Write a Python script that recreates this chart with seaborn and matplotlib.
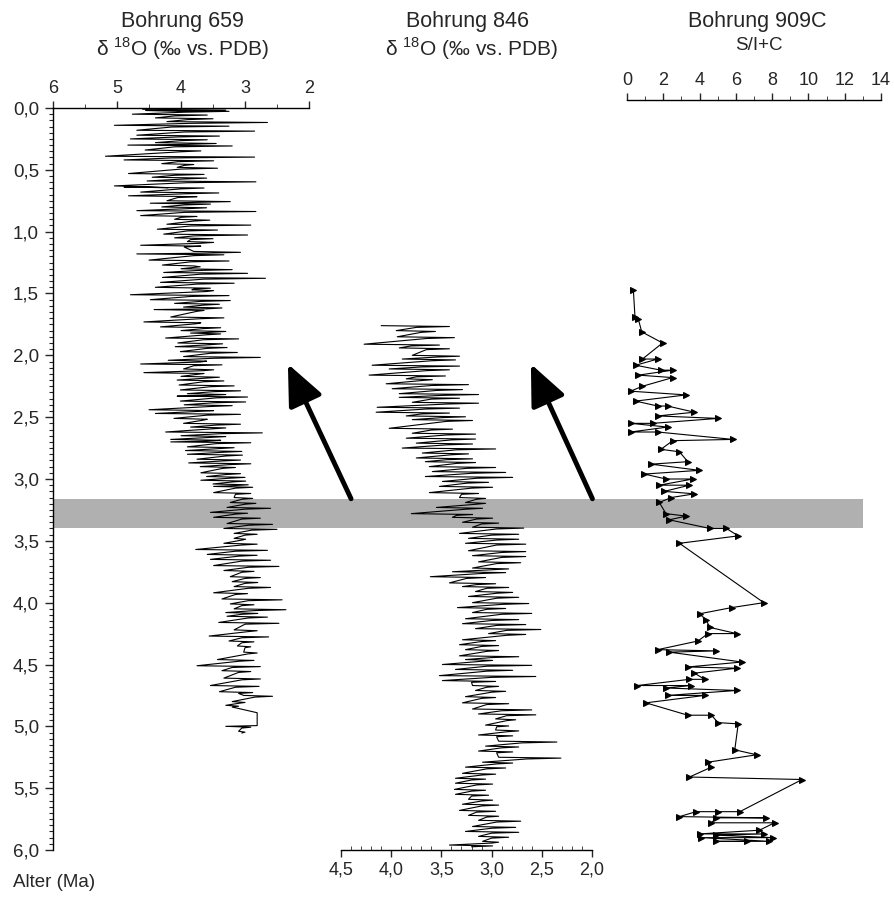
import matplotlib
matplotlib.use("Agg")
import pandas as pd
import matplotlib.pyplot as plt
import seaborn as sns
from matplotlib.ticker import MultipleLocator, FixedLocator, FixedFormatter

# --- Bohrung 659: d18O, one row per spike (age, heavy/left value, light/right value, core value)
ages_659 = [0.01, 0.02, 0.05, 0.08, 0.11, 0.14, 0.18, 0.22, 0.25, 0.28,
            0.30, 0.34, 0.39, 0.42, 0.45, 0.48, 0.53, 0.56, 0.59, 0.63,
            0.64, 0.68, 0.71, 0.75, 0.77, 0.80, 0.83, 0.87, 0.90, 0.94,
            0.98, 1.02, 1.05, 1.08, 1.11, 1.16, 1.18, 1.23, 1.27, 1.30,
            1.33, 1.37, 1.41, 1.45, 1.47, 1.51, 1.55, 1.58, 1.61, 1.63,
            1.69, 1.73, 1.77, 1.80, 1.82, 1.86, 1.90, 1.93, 1.97, 2.01,
            2.04, 2.07, 2.11, 2.14, 2.17, 2.20, 2.24, 2.28, 2.31, 2.33,
            2.37, 2.40, 2.44, 2.47, 2.51, 2.55, 2.58, 2.62, 2.65, 2.68,
            2.70, 2.74, 2.77, 2.80, 2.84, 2.87, 2.90, 2.95, 2.98, 3.01,
            3.04, 3.06, 3.11, 3.15, 3.19, 3.23, 3.27, 3.31, 3.36, 3.40,
            3.44, 3.48, 3.52, 3.57, 3.61, 3.65, 3.70, 3.74, 3.79, 3.83,
            3.87, 3.92, 3.97, 4.01, 4.05, 4.08, 4.11, 4.16, 4.22, 4.27,
            4.31, 4.35, 4.40, 4.46, 4.51, 4.55, 4.61, 4.67, 4.72, 4.75,
            4.80, 4.83, 4.89, 4.98, 5.00, 5.04]
left_659 = [4.60, 4.55, 4.76, 4.40, 4.22, 5.04, 4.69, 4.69, 4.79, 4.40,
            4.83, 4.56, 5.18, 4.89, 4.30, 4.06, 4.82, 4.45, 4.53, 5.04,
            4.89, 4.63, 4.82, 4.22, 4.48, 4.30, 4.69, 4.63, 4.10, 4.22,
            4.37, 4.27, 4.10, 3.90, 4.63, 3.80, 4.69, 4.50, 4.29, 4.00,
            4.27, 4.29, 4.32, 4.40, 3.83, 4.79, 4.48, 4.10, 3.96, 4.42,
            4.16, 4.58, 4.32, 4.00, 3.85, 4.24, 4.05, 4.09, 4.01, 3.96,
            4.20, 4.63, 3.96, 4.58, 4.00, 4.06, 4.03, 4.01, 3.90, 4.06,
            4.01, 3.95, 4.50, 4.40, 4.11, 3.96, 3.85, 4.24, 4.00, 4.16,
            4.16, 3.90, 3.93, 3.90, 3.75, 3.88, 3.70, 3.69, 3.60, 3.69,
            3.50, 3.49, 3.49, 3.17, 3.23, 3.28, 3.54, 3.49, 3.28, 3.33,
            3.17, 3.17, 3.33, 3.77, 3.59, 3.54, 3.49, 3.33, 3.23, 3.20,
            3.17, 3.49, 3.36, 3.23, 3.17, 3.30, 3.28, 3.41, 3.17, 3.56,
            3.25, 3.12, 3.02, 3.43, 3.75, 3.36, 3.33, 3.54, 3.40, 3.02,
            3.20, 3.30, 2.81, 2.81, 3.30, 3.10]
right_659 = [3.30, 3.25, 3.59, 3.50, 2.65, 3.25, 2.85, 3.40, 3.59, 3.45,
             3.20, 3.69, 2.85, 3.49, 3.80, 3.43, 3.64, 3.60, 2.83, 4.53,
             3.64, 3.41, 3.75, 3.23, 3.54, 3.60, 2.83, 3.75, 3.55, 2.91,
             3.43, 2.96, 3.50, 3.49, 3.69, 3.07, 3.33, 3.25, 3.80, 3.20,
             2.96, 2.68, 3.17, 3.54, 3.49, 3.25, 3.23, 3.40, 3.36, 3.64,
             3.33, 3.69, 3.38, 3.30, 3.38, 3.10, 3.35, 3.28, 3.12, 2.76,
             3.60, 3.36, 3.49, 3.64, 3.40, 3.33, 3.17, 3.07, 3.30, 2.96,
             2.99, 3.20, 3.49, 3.07, 3.59, 3.07, 3.30, 2.73, 3.30, 3.38,
             2.91, 3.17, 3.05, 3.04, 3.07, 2.91, 3.15, 3.07, 3.00, 2.99,
             2.95, 2.88, 2.91, 2.88, 2.83, 2.60, 2.96, 2.76, 2.57, 2.50,
             2.81, 2.99, 2.81, 2.65, 2.81, 2.60, 2.47, 2.86, 2.76, 2.80,
             2.60, 2.96, 2.42, 2.86, 2.36, 2.80, 2.65, 2.47, 2.81, 2.63,
             2.86, 2.91, 2.81, 2.86, 2.76, 2.91, 2.76, 2.78, 2.88, 2.57,
             3.00, 3.10, 2.81, 2.81, 2.91, 3.00]
core_659 = [4.05, 3.95, 4.10, 3.90, 3.85, 4.15, 3.95, 4.05, 4.00, 3.90,
            4.10, 4.00, 4.15, 4.05, 3.95, 4.00, 4.10, 3.95, 3.90, 4.20,
            4.00, 3.95, 4.05, 3.85, 3.95, 3.90, 3.95, 4.00, 3.80, 3.85,
            3.90, 3.80, 3.85, 3.70, 3.95, 3.65, 3.80, 3.85, 3.70, 3.75,
            3.70, 3.65, 3.75, 3.80, 3.60, 3.85, 3.70, 3.65, 3.60, 3.75,
            3.70, 3.75, 3.65, 3.55, 3.60, 3.65, 3.55, 3.60, 3.55, 3.50,
            3.70, 3.80, 3.65, 3.75, 3.60, 3.65, 3.55, 3.50, 3.60, 3.45,
            3.50, 3.55, 3.75, 3.60, 3.65, 3.45, 3.50, 3.40, 3.55, 3.60,
            3.45, 3.40, 3.35, 3.30, 3.35, 3.25, 3.35, 3.30, 3.25, 3.20,
            3.20, 3.15, 3.15, 3.05, 3.00, 3.00, 3.15, 3.05, 2.95, 2.90,
            3.00, 3.05, 3.05, 3.15, 3.10, 3.05, 2.95, 3.05, 3.00, 3.00,
            2.95, 3.15, 2.95, 3.05, 2.85, 3.05, 2.95, 3.00, 2.95, 3.05,
            3.05, 3.00, 2.95, 3.10, 3.20, 3.10, 3.05, 3.15, 3.10, 2.85,
            3.10, 3.20, 2.81, 2.81, 3.05, 3.05]

# --- Bohrung 846: d18O
ages_846 = [1.76, 1.80, 1.85, 1.91, 1.94, 2.00, 2.03, 2.08, 2.11, 2.16,
            2.19, 2.23, 2.27, 2.31, 2.34, 2.38, 2.42, 2.46, 2.49, 2.52,
            2.59, 2.63, 2.67, 2.71, 2.75, 2.79, 2.83, 2.86, 2.90, 2.94,
            2.98, 3.02, 3.06, 3.11, 3.15, 3.19, 3.23, 3.28, 3.31, 3.35,
            3.39, 3.44, 3.48, 3.52, 3.58, 3.62, 3.67, 3.72, 3.75, 3.79,
            3.84, 3.87, 3.91, 3.95, 4.00, 4.04, 4.08, 4.13, 4.17, 4.21,
            4.25, 4.30, 4.34, 4.38, 4.43, 4.46, 4.50, 4.54, 4.59, 4.63,
            4.67, 4.71, 4.76, 4.81, 4.86, 4.90, 4.94, 4.99, 5.03, 5.07,
            5.12, 5.16, 5.20, 5.25, 5.29, 5.33, 5.38, 5.42, 5.46, 5.51,
            5.55, 5.59, 5.63, 5.68, 5.72, 5.76, 5.81, 5.85, 5.89, 5.93,
            5.96]
left_846 = [4.10, 3.95, 3.94, 4.27, 3.92, 3.79, 3.89, 4.19, 4.02, 4.22,
            3.85, 4.05, 3.99, 3.92, 3.92, 3.79, 4.14, 4.15, 3.85, 3.79,
            4.02, 3.79, 3.85, 3.75, 3.89, 3.69, 3.75, 3.66, 3.62, 3.59,
            3.66, 3.49, 3.52, 3.62, 3.32, 3.26, 3.55, 3.80, 3.39, 3.29,
            3.19, 3.32, 3.23, 3.26, 3.23, 3.19, 3.13, 3.19, 3.39, 3.61,
            3.42, 3.29, 3.16, 3.23, 3.19, 3.34, 3.19, 3.26, 3.29, 3.16,
            3.03, 3.29, 3.32, 3.26, 3.32, 3.26, 3.49, 3.36, 3.52, 3.49,
            3.19, 3.16, 3.26, 3.29, 3.19, 3.13, 2.96, 3.06, 2.96, 3.13,
            2.93, 3.06, 3.13, 2.93, 3.09, 3.26, 3.29, 3.36, 3.36, 3.37,
            3.36, 3.23, 3.29, 3.32, 3.23, 3.13, 3.19, 3.26, 3.13, 3.09,
            3.42]
right_846 = [3.42, 3.56, 3.37, 3.52, 3.42, 3.32, 3.36, 3.32, 3.42, 3.46,
             3.59, 3.23, 3.29, 3.13, 3.32, 3.13, 3.32, 3.42, 3.26, 3.19,
             3.39, 3.16, 3.16, 3.19, 2.96, 3.23, 3.19, 3.16, 2.96, 2.86,
             2.79, 3.03, 2.99, 3.13, 3.06, 3.06, 3.09, 3.19, 2.99, 2.93,
             2.68, 2.73, 2.73, 2.66, 2.66, 2.66, 2.71, 2.83, 2.86, 3.06,
             2.96, 2.83, 2.79, 2.73, 2.63, 2.86, 2.60, 2.73, 2.66, 2.51,
             2.66, 2.96, 2.93, 2.93, 2.73, 2.99, 2.60, 2.79, 2.56, 2.96,
             2.93, 2.86, 2.96, 2.83, 2.60, 2.56, 2.76, 2.83, 2.73, 2.79,
             2.35, 2.73, 2.79, 2.31, 2.79, 2.86, 2.96, 3.06, 2.99, 3.06,
             3.03, 2.99, 2.93, 2.96, 2.93, 2.71, 2.76, 2.73, 2.83, 2.93,
             2.99]
core_846 = [3.75, 3.70, 3.65, 3.80, 3.65, 3.55, 3.60, 3.70, 3.65, 3.75,
            3.70, 3.60, 3.55, 3.50, 3.60, 3.45, 3.65, 3.70, 3.50, 3.45,
            3.60, 3.45, 3.40, 3.45, 3.35, 3.40, 3.45, 3.35, 3.25, 3.20,
            3.15, 3.25, 3.20, 3.30, 3.15, 3.15, 3.25, 3.35, 3.15, 3.10,
            2.95, 3.00, 2.95, 2.95, 2.90, 2.90, 2.95, 3.00, 3.10, 3.25,
            3.15, 3.05, 2.95, 2.95, 2.90, 3.05, 2.90, 3.00, 2.95, 2.85,
            2.85, 3.10, 3.10, 3.05, 3.00, 3.10, 3.05, 3.05, 3.00, 3.20,
            3.05, 3.00, 3.10, 3.05, 2.90, 2.85, 2.85, 2.95, 2.85, 2.95,
            2.70, 2.90, 2.95, 2.65, 2.95, 3.05, 3.10, 3.20, 3.15, 3.20,
            3.20, 3.10, 3.10, 3.15, 3.05, 2.95, 3.00, 3.00, 3.00, 3.00,
            3.20]

# --- Bohrung 909C: S/I+C ratio
ages_909 = [1.47, 1.69, 1.71, 1.81, 1.90, 2.03, 2.03, 2.08, 2.12, 2.12,
            2.16, 2.18, 2.25, 2.29, 2.32, 2.37, 2.41, 2.41, 2.46, 2.49,
            2.51, 2.55, 2.55, 2.58, 2.62, 2.62, 2.68, 2.69, 2.76, 2.78,
            2.86, 2.88, 2.93, 2.96, 3.00, 3.00, 3.05, 3.05, 3.10, 3.12,
            3.15, 3.19, 3.28, 3.30, 3.33, 3.40, 3.40, 3.46, 3.52, 4.00,
            4.04, 4.09, 4.14, 4.20, 4.25, 4.25, 4.31, 4.38, 4.39, 4.40,
            4.48, 4.52, 4.53, 4.57, 4.62, 4.62, 4.67, 4.67, 4.69, 4.71,
            4.75, 4.75, 4.81, 4.91, 4.91, 4.97, 4.98, 5.19, 5.23, 5.29,
            5.33, 5.41, 5.43, 5.69, 5.69, 5.69, 5.73, 5.74, 5.74, 5.78,
            5.78, 5.84, 5.87, 5.87, 5.88, 5.90, 5.90, 5.93, 5.93, 5.93]
ratio_909 = [0.35, 0.44, 0.63, 0.81, 1.96, 0.85, 1.69, 0.48, 1.87, 2.52,
             0.63, 2.52, 0.85, 0.20, 3.26, 0.48, 1.69, 2.24, 3.72, 1.69,
             5.02, 1.41, 0.20, 2.24, 0.20, 1.69, 5.85, 2.52, 1.87, 2.89,
             3.35, 1.33, 3.98, 0.96, 2.15, 3.63, 1.78, 3.44, 2.06, 3.72,
             2.43, 1.78, 2.15, 3.26, 2.33, 4.56, 5.48, 6.13, 2.89, 7.54,
             5.76, 4.00, 4.37, 4.56, 6.04, 4.46, 3.91, 1.69, 4.93, 2.33,
             6.33, 3.35, 6.04, 3.72, 4.28, 3.44, 0.57, 3.53, 2.15, 6.04,
             2.24, 4.28, 1.04, 3.35, 4.65, 5.02, 6.13, 5.94, 7.15, 4.46,
             4.65, 3.44, 9.65, 6.22, 5.02, 3.81, 2.89, 7.67, 4.93, 4.65,
             8.13, 7.30, 4.00, 7.57, 4.93, 8.04, 4.09, 7.85, 4.93, 6.59]

age_ticks = [0.0, 0.5, 1.0, 1.5, 2.0, 2.5, 3.0, 3.5, 4.0, 4.5, 5.0, 5.5, 6.0]
age_labels = ["0,0", "0,5", "1,0", "1,5", "2,0", "2,5", "3,0", "3,5",
              "4,0", "4,5", "5,0", "5,5", "6,0"]
ticks_659 = [6, 5, 4, 3, 2]
ticks_846 = [4.5, 4.0, 3.5, 3.0, 2.5, 2.0]
labels_846 = ["4,5", "4,0", "3,5", "3,0", "2,5", "2,0"]
ticks_909 = [0, 2, 4, 6, 8, 10, 12, 14]
band = (3.16, 3.40)


def zigzag(ages, left, right, core):
    a, v = [], []
    for t, l, r, c in zip(ages, left, right, core):
        a += [t, t + 0.007, t + 0.014]
        v += [l, r, c]
    return pd.DataFrame({"age": a, "value": v})


df659 = zigzag(ages_659, left_659, right_659, core_659)
df846 = zigzag(ages_846, left_846, right_846, core_846)
df909 = pd.DataFrame({"age": ages_909, "value": ratio_909})

sns.set_style("white")
plt.rcParams["font.family"] = ["Liberation Sans", "DejaVu Sans"]
plt.rcParams["mathtext.fontset"] = "custom"
plt.rcParams["mathtext.rm"] = "Liberation Sans"

W, H = 894, 897
fig = plt.figure(figsize=(W / 100, H / 100), dpi=100)


def box(x0, x1, y0=108, y1=850):
    return [x0 / W, 1 - y1 / H, (x1 - x0) / W, (y1 - y0) / H]


# background layer: grey band and arrows
bg = fig.add_axes(box(53, 863))
bg.set_xlim(0, 1)
bg.set_ylim(6, 0)
bg.axis("off")
bg.axhspan(*band, color="#b0b0b0", lw=0)
for x_tail, x_tip in [(0.368, 0.290), (0.666, 0.590)]:
    bg.annotate("", xy=(x_tip, 2.07), xytext=(x_tail, band[0]),
                arrowprops=dict(arrowstyle="-|>,head_length=1.25,head_width=0.55",
                                mutation_scale=20, lw=3.5, color="black",
                                shrinkA=0, shrinkB=0))

ax1 = fig.add_axes(box(53, 309))
ax2 = fig.add_axes(box(341, 592))
ax3 = fig.add_axes(box(627, 881))
for ax in (ax1, ax2, ax3):
    ax.patch.set_alpha(0)
    ax.set_ylim(6, 0)
    for s in ax.spines.values():
        s.set_visible(False)
        s.set_color("black")
        s.set_linewidth(1.0)

sns.lineplot(data=df659, x="value", y="age", sort=False, estimator=None,
             color="black", lw=0.8, ax=ax1)
sns.lineplot(data=df846, x="value", y="age", sort=False, estimator=None,
             color="black", lw=0.8, ax=ax2)
sns.lineplot(data=df909, x="value", y="age", sort=False, estimator=None,
             color="black", lw=0.8, marker=">", markersize=4.5,
             markeredgecolor="black", ax=ax3)

# 659 panel: left age axis + top d18O axis
ax1.set_xlim(6, 2)
ax1.spines["left"].set_visible(True)
ax1.spines["top"].set_visible(True)
ax1.yaxis.set_major_locator(FixedLocator(age_ticks))
ax1.yaxis.set_major_formatter(FixedFormatter(age_labels))
ax1.yaxis.set_minor_locator(MultipleLocator(0.05))
ax1.xaxis.tick_top()
ax1.xaxis.set_major_locator(FixedLocator(ticks_659))
ax1.xaxis.set_minor_locator(MultipleLocator(0.5))
ax1.tick_params(axis="y", which="major", direction="out", length=6, width=1,
                labelsize=13.5, pad=4, left=True)
ax1.tick_params(axis="y", which="minor", direction="out", length=3, width=0.8, left=True)
ax1.tick_params(axis="x", which="major", direction="out", length=5, width=1,
                labelsize=13, pad=3, top=True, bottom=False)
ax1.tick_params(axis="x", which="minor", direction="out", length=3, top=True, bottom=False)
ax1.set_xlabel("")
ax1.set_ylabel("")

# 846 panel: bottom axis only
ax2.set_xlim(4.5, 2.0)
ax2.spines["bottom"].set_visible(True)
ax2.set_yticks([])
ax2.xaxis.set_major_locator(FixedLocator(ticks_846))
ax2.xaxis.set_major_formatter(FixedFormatter(labels_846))
ax2.xaxis.set_minor_locator(MultipleLocator(0.1))
ax2.tick_params(axis="x", which="major", direction="out", length=5, width=1,
                labelsize=13, pad=3, bottom=True)
ax2.tick_params(axis="x", which="minor", direction="in", length=3, bottom=True)
ax2.set_xlabel("")
ax2.set_ylabel("")

# 909C panel: top axis only
ax3.set_xlim(0, 14)
ax3.spines["top"].set_visible(True)
ax3.spines["top"].set_position(("outward", 6))
ax3.set_yticks([])
ax3.xaxis.tick_top()
ax3.xaxis.set_major_locator(FixedLocator(ticks_909))
ax3.xaxis.set_minor_locator(MultipleLocator(1))
ax3.tick_params(axis="x", which="major", direction="out", length=5, width=1,
                labelsize=13, pad=3, top=True, bottom=False)
ax3.tick_params(axis="x", which="minor", direction="out", length=3, top=True, bottom=False)
ax3.set_xlabel("")
ax3.set_ylabel("")


# headers
def ftext(x, y, s, **kw):
    fig.text(x / W, 1 - y / H, s, ha="center", va="center", **kw)


ftext(182, 22, "Bohrung 659", fontsize=15.5)
ftext(183, 49, "δ $^{18}$O (‰ vs. PDB)", fontsize=15)
ftext(468, 22, "Bohrung 846", fontsize=15.5)
ftext(472, 49, "δ $^{18}$O (‰ vs. PDB)", fontsize=15)
ftext(757, 22, "Bohrung 909C", fontsize=15.5)
ftext(759, 46, "S/I+C", fontsize=13.5)
fig.text(13 / W, 1 - 882 / H, "Alter (Ma)", ha="left", va="center", fontsize=13.5)

fig.savefig("out.png", dpi=100)
